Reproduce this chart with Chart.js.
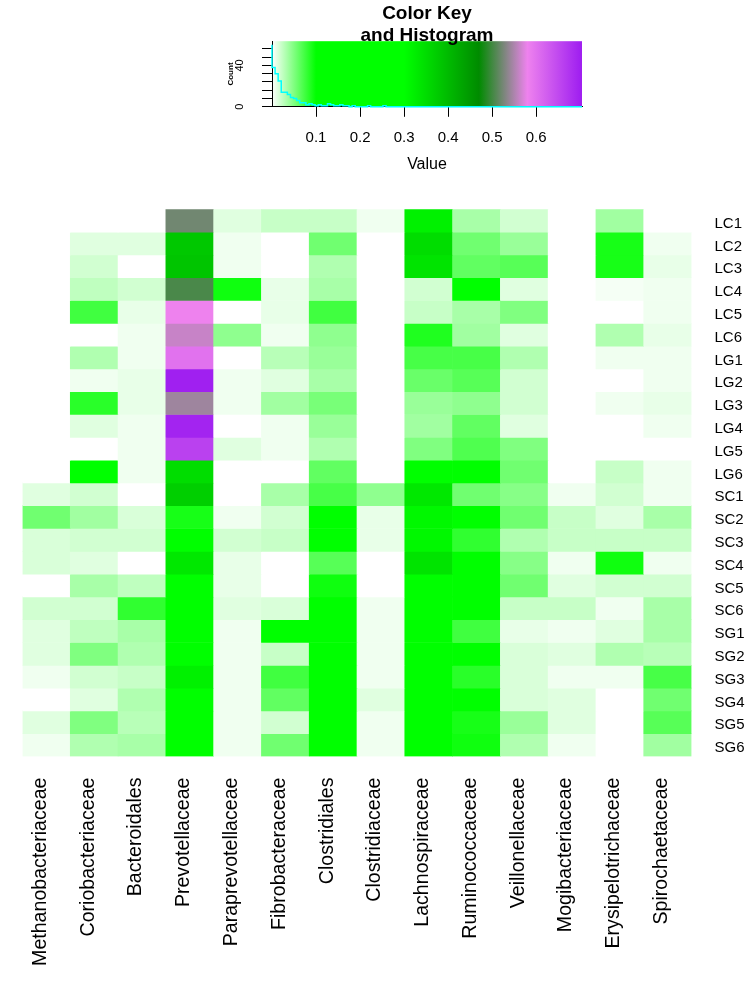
<!DOCTYPE html>
<html>
<head>
<meta charset="utf-8">
<script src="https://cdn.jsdelivr.net/npm/chart.js@4.4.0/dist/chart.umd.min.js"></script>
<style>
  body { margin: 0; background: #fff; }
  #wrap { position: relative; width: 750px; height: 994px; }
  #keyChart { position: absolute; left: 0; top: 0; }
  #heatChart { position: absolute; left: 0; top: 180px; }
</style>
</head>
<body>
<div id="wrap">
  <canvas id="keyChart" width="750" height="180"></canvas>
  <canvas id="heatChart" width="750" height="814"></canvas>
</div>
<script>
// columns of the heatmap
const families = ['Methanobacteriaceae', 'Coriobacteriaceae', 'Bacteroidales', 'Prevotellaceae',
  'Paraprevotellaceae', 'Fibrobacteraceae', 'Clostridiales', 'Clostridiaceae', 'Lachnospiraceae',
  'Ruminococcaceae', 'Veillonellaceae', 'Mogibacteriaceae', 'Erysipelotrichaceae', 'Spirochaetaceae'];

// rows, top to bottom
const samples = ['LC1', 'LC2', 'LC3', 'LC4', 'LC5', 'LC6', 'LG1', 'LG2', 'LG3', 'LG4', 'LG5', 'LG6',
  'SC1', 'SC2', 'SC3', 'SC4', 'SC5', 'SC6', 'SG1', 'SG2', 'SG3', 'SG4', 'SG5', 'SG6'];

// relative abundance, one line per sample (same order as families)
const abundance = [
  [0, 0, 0, 0.522, 0.012, 0.022, 0.022, 0.006, 0.32, 0.034, 0.018, 0, 0.037, 0],
  [0, 0.012, 0.012, 0.38, 0.006, 0, 0.056, 0, 0.35, 0.056, 0.040, 0, 0.091, 0.006],
  [0, 0.018, 0, 0.385, 0.006, 0, 0.031, 0, 0.34, 0.062, 0.066, 0, 0.091, 0.009],
  [0, 0.025, 0.018, 0.504, 0.094, 0.009, 0.034, 0, 0.018, 0.12, 0.012, 0, 0.004, 0.006],
  [0, 0.075, 0.009, 0.58, 0, 0.009, 0.075, 0, 0.022, 0.034, 0.050, 0, 0, 0.006],
  [0, 0, 0.006, 0.562, 0.044, 0.006, 0.044, 0, 0.088, 0.037, 0.012, 0, 0.031, 0.009],
  [0, 0.031, 0.006, 0.60, 0, 0.028, 0.040, 0, 0.072, 0.072, 0.031, 0, 0.006, 0.006],
  [0, 0.006, 0.009, 0.70, 0.006, 0.012, 0.034, 0, 0.059, 0.066, 0.018, 0, 0, 0.006],
  [0, 0.084, 0.009, 0.543, 0.006, 0.037, 0.053, 0, 0.040, 0.044, 0.018, 0, 0.006, 0.009],
  [0, 0.012, 0.006, 0.695, 0, 0.006, 0.040, 0, 0.037, 0.062, 0.012, 0, 0, 0.006],
  [0, 0, 0.006, 0.66, 0.012, 0.006, 0.031, 0, 0.050, 0.069, 0.050, 0, 0, 0],
  [0, 0.12, 0.006, 0.35, 0, 0, 0.062, 0, 0.20, 0.14, 0.056, 0, 0.022, 0.006],
  [0.012, 0.018, 0, 0.37, 0, 0.034, 0.072, 0.044, 0.334, 0.056, 0.047, 0.006, 0.018, 0.006],
  [0.056, 0.037, 0.015, 0.091, 0.006, 0.018, 0.13, 0.009, 0.31, 0.20, 0.056, 0.022, 0.012, 0.034],
  [0.015, 0.018, 0.018, 0.15, 0.018, 0.022, 0.12, 0.009, 0.31, 0.081, 0.031, 0.022, 0.022, 0.022],
  [0.015, 0.012, 0, 0.334, 0.009, 0, 0.066, 0, 0.34, 0.15, 0.047, 0.006, 0.094, 0.006],
  [0, 0.034, 0.025, 0.20, 0.009, 0, 0.094, 0, 0.25, 0.18, 0.056, 0.012, 0.018, 0.018],
  [0.018, 0.018, 0.081, 0.25, 0.012, 0.015, 0.15, 0.006, 0.28, 0.16, 0.022, 0.022, 0.006, 0.034],
  [0.012, 0.025, 0.034, 0.22, 0.006, 0.11, 0.13, 0.006, 0.27, 0.075, 0.009, 0.006, 0.012, 0.034],
  [0.012, 0.050, 0.031, 0.20, 0.006, 0.022, 0.16, 0.006, 0.26, 0.12, 0.015, 0.012, 0.031, 0.028],
  [0.006, 0.018, 0.022, 0.32, 0.006, 0.075, 0.14, 0.006, 0.25, 0.084, 0.015, 0.006, 0.006, 0.072],
  [0, 0.012, 0.031, 0.27, 0.006, 0.062, 0.12, 0.012, 0.27, 0.11, 0.015, 0.012, 0, 0.056],
  [0.012, 0.050, 0.028, 0.24, 0.006, 0.018, 0.14, 0.006, 0.26, 0.091, 0.040, 0.012, 0, 0.066],
  [0.006, 0.031, 0.034, 0.26, 0.006, 0.056, 0.13, 0.006, 0.25, 0.094, 0.031, 0.006, 0, 0.037]
];

// color key
const keyStops = [0, 0.1, 0.3, 0.47, 0.58, 0.7];
const keyColors = ['#FFFFFF', '#00FF00', '#00FF00', '#008B00', '#EE82EE', '#A020F0'];
const keyTicks = [0.1, 0.2, 0.3, 0.4, 0.5, 0.6];
const keyMax = 0.704;

// histogram in the key (bin start, count)
const histBreaks = [0, 0.007, 0.014, 0.021, 0.028, 0.035, 0.042, 0.049, 0.056, 0.063, 0.070, 0.077,
  0.084, 0.091, 0.098, 0.105, 0.112, 0.119, 0.126, 0.133, 0.140, 0.147, 0.154, 0.161, 0.168, 0.175,
  0.182, 0.189, 0.196, 0.203, 0.210, 0.217, 0.224, 0.231, 0.238, 0.245, 0.252, 0.259, 0.266, 0.273, 0.704];
const histCounts = [60, 38, 32, 25, 14, 14, 12, 9, 8, 6, 4, 4, 2, 3, 2, 1, 2, 1, 1, 3, 2, 1, 1, 2,
  1, 1, 0, 1, 0, 0, 0, 0, 1, 0, 0, 0, 0, 1, 0, 0, 0];
const countTicks = [0, 8, 16, 24, 32, 40, 48, 56];

Chart.defaults.font.family = "'Liberation Sans', Arial, sans-serif";
Chart.defaults.color = '#000';

function hexToRgb(h) {
  return [parseInt(h.substr(1, 2), 16), parseInt(h.substr(3, 2), 16), parseInt(h.substr(5, 2), 16)];
}

function colorFor(v) {
  if (v <= keyStops[0]) return keyColors[0];
  for (let i = 1; i < keyStops.length; i++) {
    if (v <= keyStops[i]) {
      const t = (v - keyStops[i - 1]) / (keyStops[i] - keyStops[i - 1]);
      const a = hexToRgb(keyColors[i - 1]);
      const b = hexToRgb(keyColors[i]);
      const c = a.map((x, k) => Math.round(x + (b[k] - x) * t));
      return 'rgb(' + c.join(',') + ')';
    }
  }
  return keyColors[keyColors.length - 1];
}

// paints the gradient behind everything else (title text sits on top of it)
const keyGradient = {
  id: 'keyGradient',
  beforeDraw(chart) {
    const ctx = chart.ctx;
    const a = chart.chartArea;
    const x = chart.scales.x;
    const x0 = x.getPixelForValue(0);
    const x1 = x.getPixelForValue(keyMax);
    const g = ctx.createLinearGradient(x0, 0, x1, 0);
    keyStops.forEach((s, i) => g.addColorStop(s / keyMax, keyColors[i]));
    g.addColorStop(1, keyColors[keyColors.length - 1]);
    ctx.save();
    ctx.fillStyle = g;
    ctx.fillRect(a.left, a.top, a.right - a.left, a.bottom - a.top);
    ctx.restore();
  }
};

new Chart(document.getElementById('keyChart'), {
  type: 'line',
  data: {
    datasets: [{
      data: histCounts.map((c, i) => ({ x: histBreaks[i], y: c })),
      stepped: 'after',
      borderColor: '#00FFFF',
      borderWidth: 1.5,
      pointRadius: 0,
      fill: false,
      clip: 4
    }]
  },
  options: {
    responsive: false,
    animation: false,
    devicePixelRatio: 1,
    layout: { padding: { left: 224, right: 168, top: 0, bottom: 6 } },
    plugins: {
      legend: { display: false },
      tooltip: { enabled: false },
      title: {
        display: true,
        fullSize: false,
        text: ['Color Key', 'and Histogram'],
        color: '#000',
        font: { size: 19, weight: 'bold', lineHeight: 1.2 },
        padding: { top: 2, bottom: -6.4 }
      }
    },
    scales: {
      x: {
        type: 'linear',
        min: 0,
        max: keyMax,
        afterBuildTicks: s => { s.ticks = keyTicks.map(v => ({ value: v })); },
        grid: { drawOnChartArea: false, tickLength: 10, color: '#000' },
        border: { color: '#000' },
        ticks: { padding: 12, font: { size: 15 }, callback: v => v.toFixed(1) },
        title: { display: true, text: 'Value', font: { size: 16 }, padding: { top: -4, bottom: 0 } }
      },
      y: {
        type: 'linear',
        min: 0,
        max: 63.4,
        afterBuildTicks: s => { s.ticks = countTicks.map(v => ({ value: v })); },
        grid: { drawOnChartArea: false, tickLength: 10, color: '#000' },
        border: { color: '#000' },
        ticks: {
          autoSkip: false,
          minRotation: 90, maxRotation: 90, crossAlign: 'center', padding: 16,
          font: { size: 11 },
          callback: v => (v === 0 || v === 40) ? String(v) : ''
        },
        title: { display: true, text: 'Count', font: { size: 8, weight: 'bold' }, padding: { top: 2, bottom: 0 } },
        afterFit: s => { s.width = 48; }
      }
    }
  },
  plugins: [keyGradient]
});

// heatmap: one floating bar per cell, one dataset per sample row
const heatDatasets = samples.map((name, r) => ({
  label: name,
  data: families.map(() => [r, r + 1]),
  backgroundColor: abundance[r].map(colorFor),
  borderWidth: 0,
  barPercentage: 1,
  categoryPercentage: 1,
  grouped: false
}));

new Chart(document.getElementById('heatChart'), {
  type: 'bar',
  data: { labels: families, datasets: heatDatasets },
  options: {
    responsive: false,
    animation: false,
    devicePixelRatio: 1,
    layout: { padding: { left: 22.5, top: 29.3, right: 0, bottom: 0 } },
    plugins: { legend: { display: false }, tooltip: { enabled: false } },
    scales: {
      x: {
        type: 'category',
        grid: { display: false },
        border: { display: false },
        ticks: { autoSkip: false, minRotation: 90, maxRotation: 90, padding: 13, labelOffset: -6, font: { size: 19.6 } },
        afterFit: s => { s.height = 237.5; }
      },
      y: {
        type: 'linear',
        position: 'right',
        min: 0,
        max: samples.length,
        reverse: true,
        grid: { display: false },
        border: { display: false },
        afterBuildTicks: s => { s.ticks = samples.map((n, i) => ({ value: i + 0.5 })); },
        ticks: { autoSkip: false, padding: 15, labelOffset: 3, font: { size: 15 }, callback: (v, i) => samples[i] },
        afterFit: s => { s.width = 58.5; }
      }
    }
  }
});
</script>
</body>
</html>
